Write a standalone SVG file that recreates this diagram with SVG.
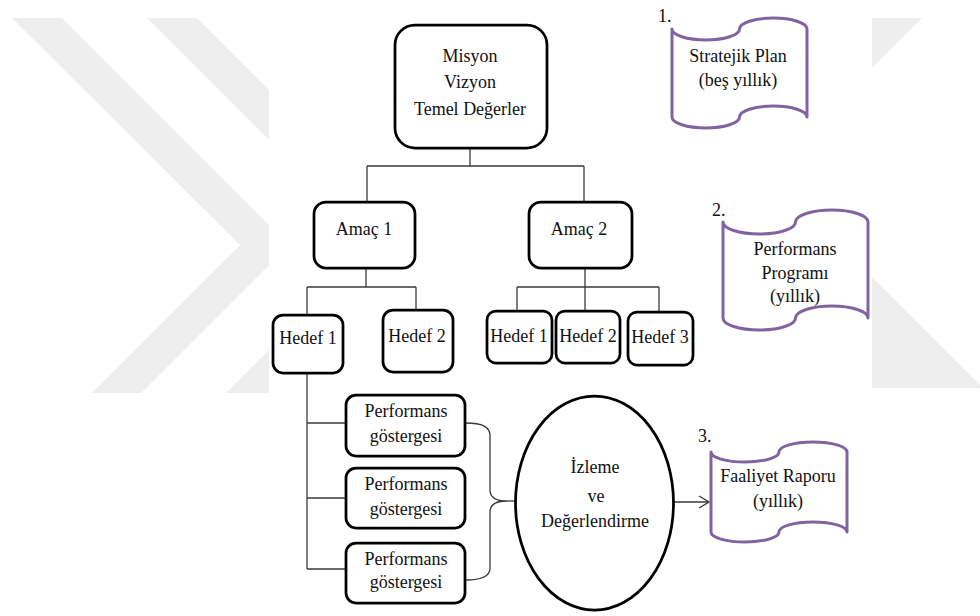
<svg xmlns="http://www.w3.org/2000/svg" width="980" height="616" viewBox="0 0 980 616">
  <defs>
    <style>
      .box { fill: #ffffff; stroke: #000000; stroke-width: 2.75; }
      .scroll { fill: #ffffff; stroke: #8064a2; stroke-width: 3; stroke-linejoin: round; }
      .lbl { font-family: "Liberation Serif", "Times New Roman", serif; font-size: 18px; fill: #111111; text-anchor: middle; }
      .num { font-family: "Liberation Serif", "Times New Roman", serif; font-size: 18px; fill: #111111; }
      .wire { fill: none; stroke: #3a3a3a; stroke-width: 1.3; }
      .mark { fill: #eeeeee; }
    </style>
    <marker id="openArrow" markerWidth="12" markerHeight="14" refX="11" refY="7" orient="auto" markerUnits="userSpaceOnUse">
      <path d="M1,1 L11,7 L1,13" fill="none" stroke="#3a3a3a" stroke-width="1.3"/>
    </marker>
  </defs>

  <!-- background with faint chevron marks -->
  <rect x="0" y="0" width="980" height="616" fill="#ffffff"/>
  <g id="backdrop">
    <polygon class="mark" points="12,18 62,18 289,245 141,393 92,393 240,245"/>
    <polygon class="mark" points="147,18 197,18 424,245 276,393 226,393 374,245"/>
    <polygon class="mark" points="860,18 922,18 860,80"/>
    <polygon class="mark" points="860,265 983,388 860,388"/>
    <rect x="269" y="0" width="603" height="616" fill="#ffffff"/>
  </g>

  <!-- connectors -->
  <g id="connectors">
    <path class="wire" d="M470,148 V166 M367,166 H584 M367,166 V202 M584,166 V202"/>
    <path class="wire" d="M366,268 V287 M307,287 H416 M307,287 V315 M416,287 V310"/>
    <path class="wire" d="M585,268 V311 M517,287 H659 M517,287 V311 M659,287 V312"/>
    <path class="wire" d="M307,373 V569 M307,423 H346 M307,498 H346 M307,569 H346"/>
    <path class="wire" d="M466,423 Q490,423 490,435 L490,490 Q490,501 507,501 Q490,501 490,512 L490,568 Q490,580 466,580"/>
    <path class="wire" d="M507,501 H516"/>
    <path class="wire" d="M674,502 H709" marker-end="url(#openArrow)"/>
  </g>

  <!-- mission / vision / values -->
  <g id="node-mission">
    <rect class="box" x="395" y="25" width="152" height="123" rx="20"/>
    <text class="lbl" x="470" y="62">Misyon</text>
    <text class="lbl" x="470" y="88">Vizyon</text>
    <text class="lbl" x="470" y="115">Temel Değerler</text>
  </g>

  <!-- goals -->
  <g id="node-amac1">
    <rect class="box" x="314" y="202" width="101" height="66" rx="12"/>
    <text class="lbl" x="364" y="235">Amaç 1</text>
  </g>
  <g id="node-amac2">
    <rect class="box" x="529" y="202" width="103" height="66" rx="12"/>
    <text class="lbl" x="579" y="235">Amaç 2</text>
  </g>

  <!-- targets -->
  <g id="node-a1-hedef1">
    <rect class="box" x="273" y="315" width="70" height="58" rx="10"/>
    <text class="lbl" x="308" y="344">Hedef 1</text>
  </g>
  <g id="node-a1-hedef2">
    <rect class="box" x="383" y="310" width="70" height="62" rx="10"/>
    <text class="lbl" x="417" y="342">Hedef 2</text>
  </g>
  <g id="node-a2-hedef1">
    <rect class="box" x="487" y="311" width="65" height="52" rx="9"/>
    <text class="lbl" x="519" y="342">Hedef 1</text>
  </g>
  <g id="node-a2-hedef2">
    <rect class="box" x="556" y="311" width="64" height="52" rx="9"/>
    <text class="lbl" x="588" y="342">Hedef 2</text>
  </g>
  <g id="node-a2-hedef3">
    <rect class="box" x="628" y="312" width="65" height="53" rx="9"/>
    <text class="lbl" x="660" y="343">Hedef 3</text>
  </g>

  <!-- performance indicators -->
  <g id="node-pg1">
    <rect class="box" x="346" y="395" width="119" height="61" rx="10"/>
    <text class="lbl" x="406" y="417">Performans</text>
    <text class="lbl" x="406" y="442">göstergesi</text>
  </g>
  <g id="node-pg2">
    <rect class="box" x="346" y="468" width="119" height="60" rx="10"/>
    <text class="lbl" x="406" y="490">Performans</text>
    <text class="lbl" x="406" y="515">göstergesi</text>
  </g>
  <g id="node-pg3">
    <rect class="box" x="346" y="543" width="119" height="60" rx="10"/>
    <text class="lbl" x="406" y="565">Performans</text>
    <text class="lbl" x="406" y="588">göstergesi</text>
  </g>

  <!-- monitoring and evaluation -->
  <g id="node-izleme">
    <ellipse class="box" cx="594.5" cy="503" rx="79" ry="107"/>
    <text class="lbl" x="595" y="473">İzleme</text>
    <text class="lbl" x="596" y="502">ve</text>
    <text class="lbl" x="595" y="527">Değerlendirme</text>
  </g>

  <!-- documents -->
  <g id="node-stratejik-plan">
    <text class="num" x="658" y="22">1.</text>
    <path class="scroll" d="M672,29 A33.75,11 0 0 0 739.5,29 A33.75,11 0 0 1 807,29 L807,117 A33.75,11 0 0 0 739.5,117 A33.75,11 0 0 1 672,117 Z"/>
    <text class="lbl" x="738" y="62">Stratejik Plan</text>
    <text class="lbl" x="738" y="86">(beş yıllık)</text>
  </g>
  <g id="node-performans-programi">
    <text class="num" x="712" y="216">2.</text>
    <path class="scroll" d="M723,222 A36.25,12 0 0 0 795.5,222 A36.25,12 0 0 1 868,222 L868,318 A36.25,12 0 0 0 795.5,318 A36.25,12 0 0 1 723,318 Z"/>
    <text class="lbl" x="795" y="255">Performans</text>
    <text class="lbl" x="795" y="279">Programı</text>
    <text class="lbl" x="795" y="302">(yıllık)</text>
  </g>
  <g id="node-faaliyet-raporu">
    <text class="num" x="698" y="442">3.</text>
    <path class="scroll" d="M711,452 A34,10 0 0 0 779,452 A34,10 0 0 1 847,452 L847,532 A34,10 0 0 0 779,532 A34,10 0 0 1 711,532 Z"/>
    <text class="lbl" x="778" y="482">Faaliyet Raporu</text>
    <text class="lbl" x="778" y="507">(yıllık)</text>
  </g>
</svg>
